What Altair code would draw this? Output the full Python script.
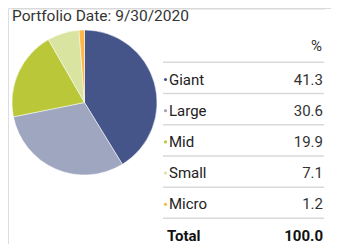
import altair as alt
import pandas as pd

categories = ["Giant", "Large", "Mid", "Small", "Micro"]
values = [41.3, 30.6, 19.9, 7.1, 1.2]
colors = ["#45558A", "#9EA6C0", "#B9C739", "#D9E4A1", "#FFB547"]
total_label = "Total"
total_value = "100.0"
title_text = "Portfolio Date: 9/30/2020"

FONT = "Roboto, Liberation Sans, sans-serif"

df = pd.DataFrame({
    "cat": categories,
    "val": values,
    "order": list(range(len(categories))),
    "row": list(range(len(categories))),
    "label": [f"{v:.1f}" for v in values],
})
tot = pd.DataFrame({"cat": [total_label], "label": [total_value], "row": [len(categories)]})
seps = pd.DataFrame({"row": [i - 0.55 for i in range(len(categories) + 1)]})

cscale = alt.Scale(domain=categories, range=colors)
yscale = alt.Scale(domain=[0, 5], range=[71.5, 227.5])

pie = alt.Chart(df).mark_arc(outerRadius=72.5, stroke="white", strokeWidth=0.5).encode(
    theta=alt.Theta("val:Q", stack=True),
    order=alt.Order("order:Q"),
    color=alt.Color("cat:N", scale=cscale, legend=None),
    x=alt.value(76.5),
    y=alt.value(94.5),
)

top_line = alt.Chart(pd.DataFrame({"a": [0]})).mark_rule(color="#D9D9D9", strokeWidth=1.5).encode(
    x=alt.value(4), x2=alt.value(317), y=alt.value(0.75)
)

title = alt.Chart(pd.DataFrame({"t": [title_text]})).mark_text(
    align="left", baseline="middle", fontSize=15.5, font=FONT, color="#333333"
).encode(text="t:N", x=alt.value(4), y=alt.value(8))

pct = alt.Chart(pd.DataFrame({"t": ["%"]})).mark_text(
    align="right", baseline="middle", fontSize=15, font=FONT, color="#333333"
).encode(text="t:N", x=alt.value(314), y=alt.value(38))

rules = alt.Chart(seps).mark_rule(color="#D9D9D9", strokeWidth=1.5).encode(
    y=alt.Y("row:Q", scale=yscale, axis=None), x=alt.value(155), x2=alt.value(316)
)

dots = alt.Chart(df).mark_circle(size=10, opacity=1).encode(
    y=alt.Y("row:Q", scale=yscale, axis=None),
    x=alt.value(157.5),
    color=alt.Color("cat:N", scale=cscale, legend=None),
)

names = alt.Chart(df).mark_text(
    align="left", baseline="middle", fontSize=15, font=FONT, color="#222222"
).encode(y=alt.Y("row:Q", scale=yscale, axis=None), x=alt.value(161), text="cat:N")

vals = alt.Chart(df).mark_text(
    align="right", baseline="middle", fontSize=15, font=FONT, color="#333333"
).encode(y=alt.Y("row:Q", scale=yscale, axis=None), x=alt.value(315), text="label:N")

tot_name = alt.Chart(tot).mark_text(
    align="left", baseline="middle", fontSize=15, font=FONT, fontWeight="bold", color="#111111"
).encode(y=alt.Y("row:Q", scale=yscale, axis=None), x=alt.value(159), text="cat:N")

tot_val = alt.Chart(tot).mark_text(
    align="right", baseline="middle", fontSize=15, font=FONT, fontWeight="bold", color="#111111"
).encode(y=alt.Y("row:Q", scale=yscale, axis=None), x=alt.value(315), text="label:N")

chart = alt.layer(top_line, title, pct, pie, rules, dots, names, vals, tot_name, tot_val).properties(
    width=323, height=236, padding=0, autosize=alt.AutoSizeParams(type="none")
).configure_view(stroke=None).configure(background="white")

chart.save("out.html", embed_options={"renderer": "svg", "actions": False})
